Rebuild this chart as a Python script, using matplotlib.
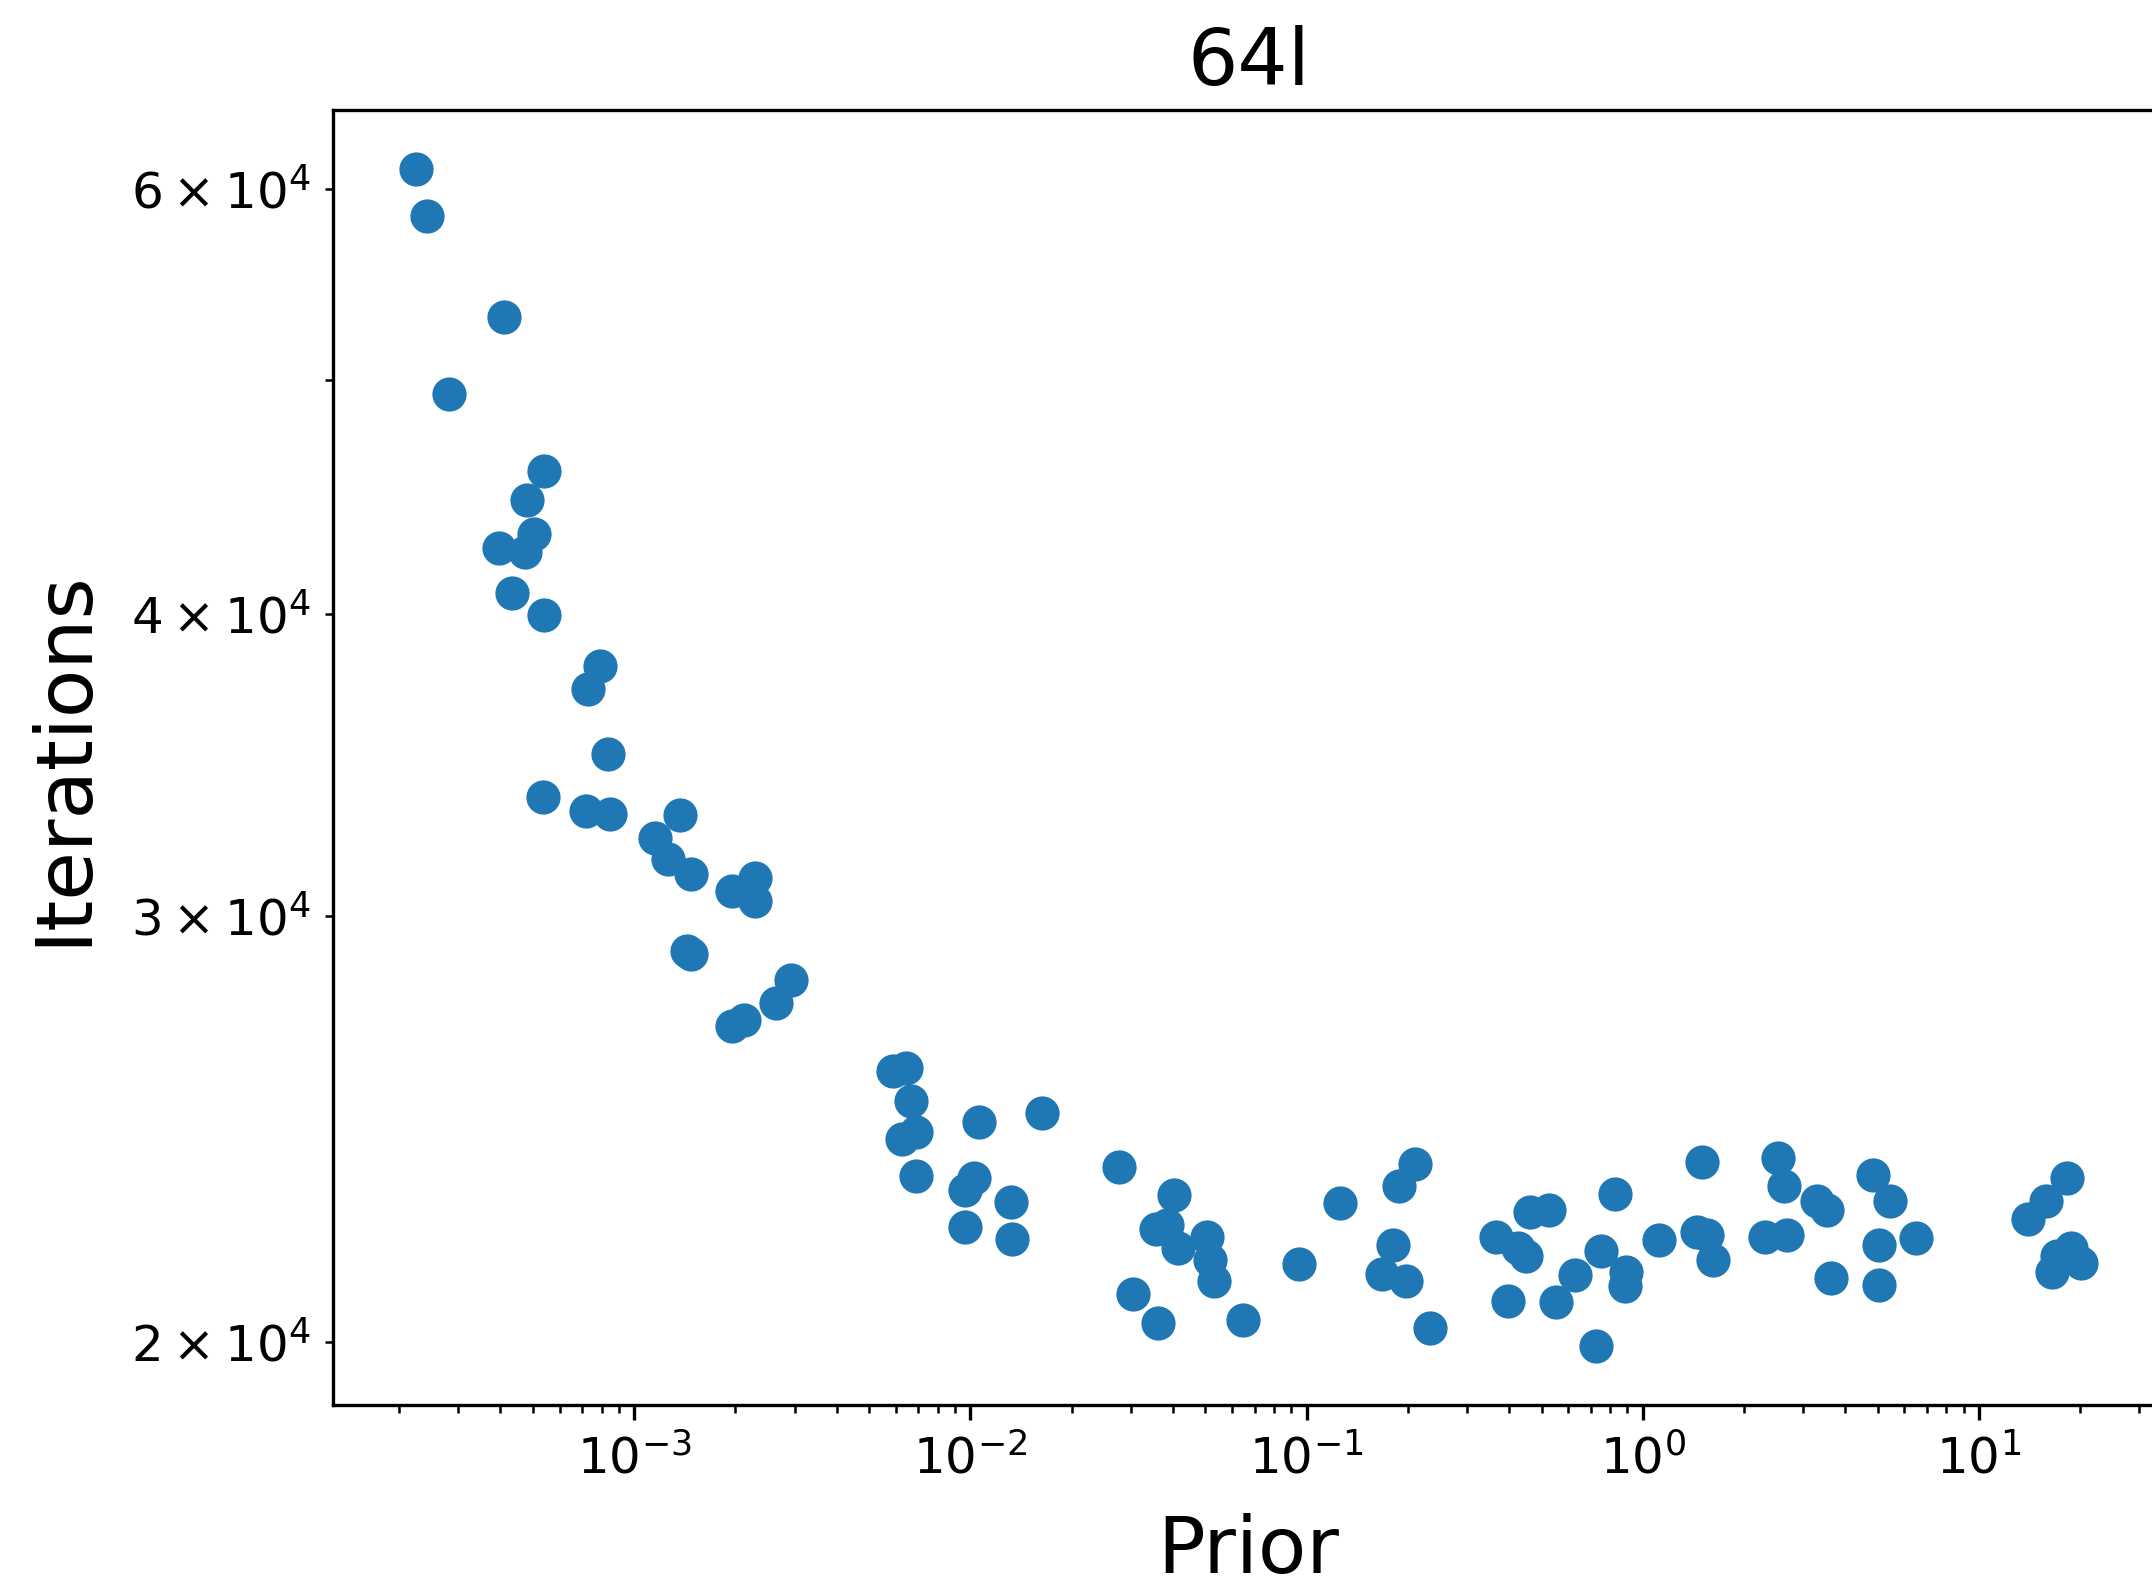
import numpy as np
import matplotlib
matplotlib.use('Agg')
import matplotlib.pyplot as plt

# valores del prior y numero de iteraciones para cada corrida (64l)
prior = [2.245e-4, 2.421e-4, 4.100e-4, 2.813e-4, 5.386e-4, 4.811e-4, 5.042e-4, 3.949e-4,
         4.721e-4, 4.338e-4, 5.386e-4, 7.920e-4, 7.276e-4, 8.380e-4, 5.336e-4, 7.208e-4,
         8.459e-4, 1.366e-3, 1.154e-3, 1.256e-3, 1.473e-3, 2.293e-3, 1.954e-3, 2.293e-3,
         1.432e-3, 1.473e-3, 2.928e-3, 2.640e-3, 1.954e-3, 2.126e-3,
         5.872e-3, 6.451e-3, 6.636e-3, 6.272e-3, 6.890e-3, 6.890e-3, 1.062e-2, 1.637e-2,
         1.023e-2, 9.667e-3, 1.318e-2, 9.667e-3, 1.331e-2, 2.772e-2, 4.038e-2, 3.853e-2,
         3.573e-2, 4.154e-2, 5.061e-2, 5.157e-2, 5.305e-2, 3.045e-2, 3.607e-2, 6.464e-2,
         9.504e-2, 0.1260, 0.2095, 0.1888, 0.1802, 0.1671, 0.1980, 0.2323,
         0.3648, 0.4615, 0.5265, 0.4241, 0.4487, 0.3971, 0.5518, 0.6295,
         0.7249, 0.7527, 0.8270, 0.8917, 0.8834, 1.117, 1.495, 1.454,
         1.553, 1.613, 2.305, 2.533, 2.630, 2.680, 3.296, 3.520,
         3.621, 4.848, 5.426, 5.031, 5.031, 6.488, 14.03, 15.86,
         18.25, 18.78, 17.09, 16.46, 20.06]

iteraciones = [61140, 58480, 53110, 49350, 45860, 44620, 43190, 42620,
               42460, 40830, 39990, 38090, 37260, 35030, 33600, 33160,
               33080, 33040, 32310, 31680, 31230, 31100, 30740, 30450,
               29010, 28940, 28230, 27610, 27010, 27180,
               25900, 25970, 25170, 24270, 24430, 23420, 24650, 24880,
               23390, 23120, 22850, 22320, 22060, 23630, 23000, 22350,
               22280, 21880, 22110, 21630, 21200, 20930, 20360, 20420,
               21540, 22820, 23690, 23210, 21940, 21340, 21200, 20260,
               22110, 22640, 22670, 21880, 21710, 20790, 20770, 21320,
               19920, 21800, 23030, 21370, 21100, 22030, 23730, 22200,
               22140, 21630, 22110, 23820, 23210, 22140, 22880, 22670,
               21260, 23450, 22880, 21940, 21120, 22080, 22490, 22880,
               23390, 21880, 21710, 21370, 21570]

fig = plt.figure(figsize=(2152 / 300, 1585 / 300), dpi=300)
# el eje se extiende un poco mas alla del borde derecho de la figura
ax = fig.add_axes([0.1547, 0.1136, 0.8508, 0.8170])

ax.scatter(prior, iteraciones, s=52, color='#1f77b4')
ax.set_xscale('log')
ax.set_yscale('log')

ax.tick_params(axis='both', which='both', labelsize=12)
ax.set_xlabel('Prior', fontsize=19, labelpad=7)
ax.set_ylabel('Iterations', fontsize=19, labelpad=7)
ax.set_title('64l', fontsize=19)

fig.savefig('out.png', dpi=300)
